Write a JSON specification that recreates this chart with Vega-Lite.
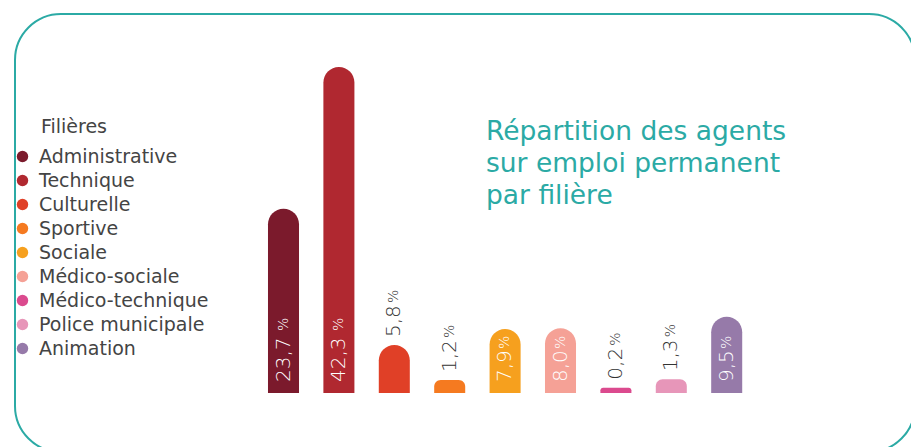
{
  "$schema": "https://vega.github.io/schema/vega-lite/v6.json",
  "autosize": {"type": "none"},
  "padding": {"left": 15, "top": 14, "right": 0, "bottom": 0},
  "width": 900,
  "height": 438,
  "background": "white",
  "title": {
    "text": ["Répartition des agents", "sur emploi permanent", "par filière"],
    "anchor": "start",
    "frame": "group",
    "orient": "top",
    "baseline": "top",
    "dx": 471,
    "dy": 199,
    "lineHeight": 32,
    "fontSize": 26.5,
    "font": "DejaVu Sans",
    "fontWeight": "normal",
    "color": "#2BAAA5"
  },
  "data": {
    "values": [
      {"filiere": "Administrative", "value": 23.7, "label": "23,7", "pos": "in", "w": 4},
      {"filiere": "Technique", "value": 42.3, "label": "42,3", "pos": "in", "w": 4},
      {"filiere": "Culturelle", "value": 5.8, "label": "5,8", "pos": "out", "w": 3},
      {"filiere": "Sportive", "value": 1.2, "label": "1,2", "pos": "out", "w": 3},
      {"filiere": "Sociale", "value": 7.9, "label": "7,9", "pos": "in", "w": 3},
      {"filiere": "Médico-sociale", "value": 8.0, "label": "8,0", "pos": "in", "w": 3},
      {"filiere": "Médico-technique", "value": 0.2, "label": "0,2", "pos": "out", "w": 3},
      {"filiere": "Police municipale", "value": 1.3, "label": "1,3", "pos": "out", "w": 3},
      {"filiere": "Animation", "value": 9.5, "label": "9,5", "pos": "in", "w": 3}
    ]
  },
  "encoding": {
    "x": {
      "field": "filiere",
      "type": "nominal",
      "sort": null,
      "axis": null,
      "scale": {"paddingInner": 0.44, "paddingOuter": 0.22, "range": [240.8, 739.4]}
    }
  },
  "layer": [
    {
      "mark": {"type": "bar", "cornerRadiusTopLeft": 15.5, "cornerRadiusTopRight": 15.5},
      "encoding": {
        "y": {"field": "value", "type": "quantitative", "axis": null, "scale": {"domain": [-8.246, 49.258], "zero": false, "nice": false}},
        "y2": {"datum": -0.5},
        "color": {
          "field": "filiere",
          "type": "nominal",
          "sort": null,
          "scale": {
            "domain": ["Administrative", "Technique", "Culturelle", "Sportive", "Sociale", "Médico-sociale", "Médico-technique", "Police municipale", "Animation"],
            "range": ["#7B1A2C", "#B02830", "#E04027", "#F57A20", "#F6A01E", "#F5A196", "#DB4A8E", "#E796B9", "#967AA9"]
          },
          "legend": {
            "orient": "none",
            "legendX": -2,
            "legendY": 104,
            "title": "\u200b\u00a0\u00a0\u00a0\u00a0\u2009Filières",
            "titleFont": "DejaVu Sans",
            "titleFontWeight": "normal",
            "titleFontSize": 19,
            "titleColor": "#444444",
            "titlePadding": 10,
            "labelFont": "DejaVu Sans",
            "labelFontSize": 19,
            "labelColor": "#444444",
            "labelOffset": 7,
            "labelLimit": 300,
            "symbolType": "circle",
            "symbolSize": 130,
            "symbolStrokeWidth": 0,
            "rowPadding": 4,
            "padding": 0
          }
        }
      }
    },
    {
      "transform": [{"filter": "datum.pos == 'in'"}],
      "mark": {"type": "text", "angle": 270, "align": "left", "baseline": "middle", "dx": 11, "fontSize": 20, "font": "DejaVu Sans", "fontWeight": 300, "color": "white"},
      "encoding": {"y": {"datum": -0.5, "type": "quantitative"}, "text": {"field": "label"}}
    },
    {
      "transform": [{"filter": "datum.pos == 'out'"}],
      "mark": {"type": "text", "angle": 270, "align": "left", "baseline": "middle", "dx": 8, "fontSize": 20, "font": "DejaVu Sans", "fontWeight": 300, "color": "#333333"},
      "encoding": {"y": {"field": "value", "type": "quantitative"}, "text": {"field": "label"}}
    },
    {
      "transform": [{"filter": "datum.pos == 'in' && datum.w == 4"}],
      "mark": {"type": "text", "angle": 270, "align": "left", "baseline": "middle", "dx": 62, "fontSize": 14, "font": "DejaVu Sans", "fontWeight": 300, "color": "white", "text": "%"},
      "encoding": {"y": {"datum": -0.5, "type": "quantitative"}}
    },
    {
      "transform": [{"filter": "datum.pos == 'in' && datum.w == 3"}],
      "mark": {"type": "text", "angle": 270, "align": "left", "baseline": "middle", "dx": 44, "fontSize": 14, "font": "DejaVu Sans", "fontWeight": 300, "color": "white", "text": "%"},
      "encoding": {"y": {"datum": -0.5, "type": "quantitative"}}
    },
    {
      "transform": [{"filter": "datum.pos == 'out'"}],
      "mark": {"type": "text", "angle": 270, "align": "left", "baseline": "middle", "dx": 42, "fontSize": 14, "font": "DejaVu Sans", "fontWeight": 300, "color": "#333333", "text": "%"},
      "encoding": {"y": {"field": "value", "type": "quantitative"}}
    }
  ],
  "config": {
    "view": {"stroke": "#2BAAA5", "strokeWidth": 2, "cornerRadius": 46}
  }
}
